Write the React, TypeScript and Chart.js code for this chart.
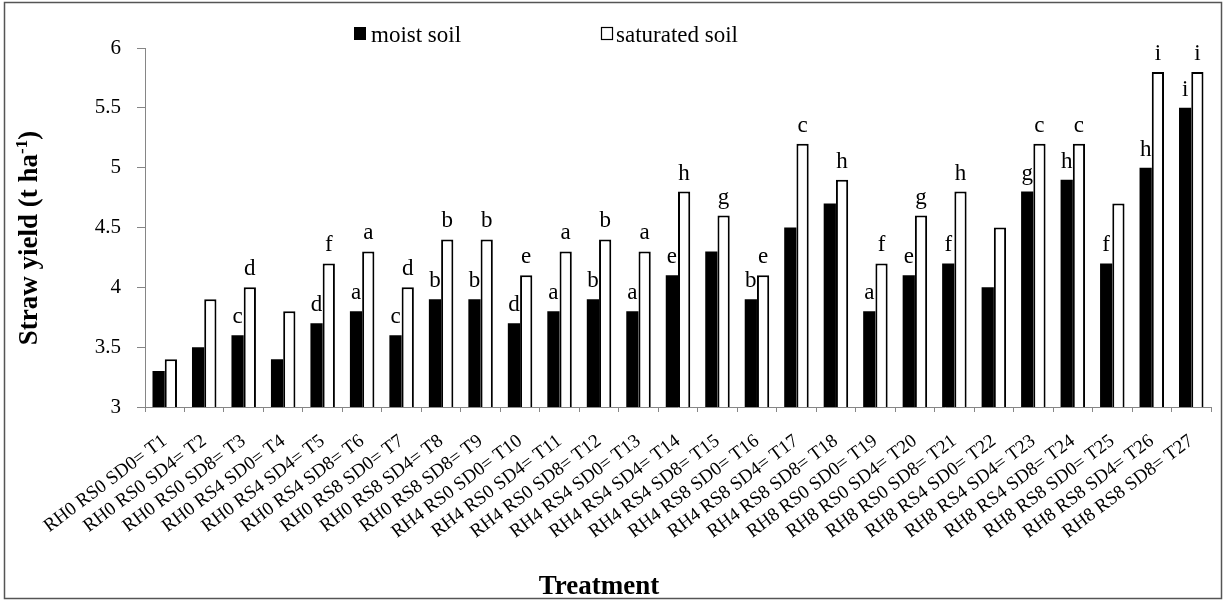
import React, { useEffect, useRef } from "react";
import { Chart, registerables } from "chart.js";

Chart.register(...registerables);

const categories = [
  "RH0 RS0 SD0= T1", "RH0 RS0 SD4= T2", "RH0 RS0 SD8= T3",
  "RH0 RS4 SD0= T4", "RH0 RS4 SD4= T5", "RH0 RS4 SD8= T6",
  "RH0 RS8 SD0= T7", "RH0 RS8 SD4= T8", "RH0 RS8 SD8= T9",
  "RH4 RS0 SD0= T10", "RH4 RS0 SD4= T11", "RH4 RS0 SD8= T12",
  "RH4 RS4 SD0= T13", "RH4 RS4 SD4= T14", "RH4 RS4 SD8= T15",
  "RH4 RS8 SD0= T16", "RH4 RS8 SD4= T17", "RH4 RS8 SD8= T18",
  "RH8 RS0 SD0= T19", "RH8 RS0 SD4= T20", "RH8 RS0 SD8= T21",
  "RH8 RS4 SD0= T22", "RH8 RS4 SD4= T23", "RH8 RS4 SD8= T24",
  "RH8 RS8 SD0= T25", "RH8 RS8 SD4= T26", "RH8 RS8 SD8= T27",
];

const moistSoil = [3.3, 3.5, 3.6, 3.4, 3.7, 3.8, 3.6, 3.9, 3.9, 3.7, 3.8, 3.9, 3.8, 4.1, 4.3, 3.9, 4.5, 4.7, 3.8, 4.1, 4.2, 4.0, 4.8, 4.9, 4.2, 5.0, 5.5];
const saturatedSoil = [3.4, 3.9, 4.0, 3.8, 4.2, 4.3, 4.0, 4.4, 4.4, 4.1, 4.3, 4.4, 4.3, 4.8, 4.6, 4.1, 5.2, 4.9, 4.2, 4.6, 4.8, 4.5, 5.2, 5.2, 4.7, 5.8, 5.8];

const moistLetters = ["", "", "c", "", "d", "a", "c", "b", "b", "d", "a", "b", "a", "e", "", "b", "", "", "a", "e", "f", "", "g", "h", "f", "h", "i"];
const saturatedLetters = ["", "", "d", "", "f", "a", "d", "b", "b", "e", "a", "b", "a", "h", "g", "e", "c", "h", "f", "g", "h", "", "c", "c", "", "i", "i"];

const seriesNames = ["moist soil", "saturated soil"];
const yMin = 3;
const yMax = 6;
const yStep = 0.5;
const xTitle = "Treatment";
const yTitleMain = "Straw yield (t ha";
const yTitleSup = "-1";
const yTitleEnd = ")";

const SERIF = '"Liberation Serif"';
const AXIS_GRAY = "#868686";

const decorPlugin = {
  id: "decor",
  afterDatasetsDraw(chart: any) {
    const ctx = chart.ctx as CanvasRenderingContext2D;
    ctx.save();
    ctx.font = `23px ${SERIF}`;
    ctx.fillStyle = "#000";
    ctx.textAlign = "center";
    ctx.textBaseline = "alphabetic";
    [moistLetters, saturatedLetters].forEach((letters, di) => {
      const meta = chart.getDatasetMeta(di);
      meta.data.forEach((bar: any, i: number) => {
        const t = letters[i];
        if (t) ctx.fillText(t, bar.x, bar.y - 12);
      });
    });
    ctx.restore();
  },
  afterDraw(chart: any) {
    const ctx = chart.ctx as CanvasRenderingContext2D;
    ctx.save();
    // outer border
    ctx.strokeStyle = "#555";
    ctx.lineWidth = 1.5;
    ctx.strokeRect(4.5, 2.5, 1217, 596);

    // legend
    ctx.font = `23px ${SERIF}`;
    ctx.textAlign = "left";
    ctx.textBaseline = "alphabetic";
    ctx.fillStyle = "#000";
    ctx.fillRect(354, 27, 12, 13);
    ctx.fillText(seriesNames[0], 371, 42);
    ctx.fillStyle = "#fff";
    ctx.fillRect(601, 27, 12, 13);
    ctx.strokeStyle = "#000";
    ctx.lineWidth = 1.2;
    ctx.strokeRect(601.5, 27.5, 11, 12);
    ctx.fillStyle = "#000";
    ctx.fillText(seriesNames[1], 616, 42);

    // x title
    ctx.font = `bold 27px ${SERIF}`;
    ctx.textAlign = "center";
    ctx.fillText(xTitle, 599, 594);

    // y title with superscript
    ctx.translate(37, 238);
    ctx.rotate(-Math.PI / 2);
    const mainFont = `bold 27px ${SERIF}`;
    const supFont = `bold 17px ${SERIF}`;
    ctx.font = mainFont;
    const w1 = ctx.measureText(yTitleMain).width;
    const w3 = ctx.measureText(yTitleEnd).width;
    ctx.font = supFont;
    const w2 = ctx.measureText(yTitleSup).width;
    const total = w1 + w2 + w3;
    let x = -total / 2;
    ctx.textAlign = "left";
    ctx.font = mainFont;
    ctx.fillText(yTitleMain, x, 0);
    x += w1;
    ctx.font = supFont;
    ctx.fillText(yTitleSup, x, -10);
    x += w2;
    ctx.font = mainFont;
    ctx.fillText(yTitleEnd, x, 0);
    ctx.restore();
  },
};

export default function App() {
  const ref = useRef<HTMLCanvasElement | null>(null);

  useEffect(() => {
    let chart: Chart | null = null;
    let cancelled = false;
    const build = () => {
      if (cancelled || !ref.current) return;
      chart = new Chart(ref.current, {
        type: "bar",
        data: {
          labels: categories,
          datasets: [
            {
              label: seriesNames[0],
              data: moistSoil,
              backgroundColor: "#000",
              borderWidth: 0,
              categoryPercentage: 0.62,
              barPercentage: 1.0,
            },
            {
              label: seriesNames[1],
              data: saturatedSoil,
              backgroundColor: "#fff",
              borderColor: "#000",
              borderWidth: 2,
              categoryPercentage: 0.62,
              barPercentage: 1.0,
            },
          ],
        },
        options: {
          responsive: false,
          animation: false,
          devicePixelRatio: 1,
          layout: { padding: { top: 48, right: 14, left: 0, bottom: 0 } },
          plugins: {
            legend: { display: false },
            tooltip: { enabled: false },
            title: { display: false },
          },
          scales: {
            x: {
              offset: true,
              grid: {
                display: true,
                drawOnChartArea: false,
                drawTicks: true,
                tickLength: 5,
                color: AXIS_GRAY,
                offset: true,
              },
              border: { display: true, color: AXIS_GRAY, width: 1 },
              ticks: {
                autoSkip: false,
                maxRotation: 37,
                minRotation: 37,
                color: "#000",
                padding: 18,
                font: { family: SERIF, size: 19 },
              },
              afterFit(scale: any) {
                scale.height = 601 - 407;
              },
            },
            y: {
              min: yMin,
              max: yMax,
              grid: {
                display: true,
                drawOnChartArea: false,
                drawTicks: true,
                tickLength: 8,
                color: AXIS_GRAY,
              },
              border: { display: true, color: AXIS_GRAY, width: 1 },
              ticks: {
                stepSize: yStep,
                color: "#000",
                padding: 16,
                font: { family: SERIF, size: 21 },
                callback: (v: any) => String(v),
              },
              afterFit(scale: any) {
                scale.width = 145;
              },
            },
          },
        },
        plugins: [decorPlugin],
      });
    };
    const fonts: any = (document as any).fonts;
    if (fonts && fonts.load) {
      Promise.all([
        fonts.load(`21px ${SERIF}`),
        fonts.load(`bold 27px ${SERIF}`),
      ]).then(build, build);
    } else {
      build();
    }
    return () => {
      cancelled = true;
      if (chart) chart.destroy();
    };
  }, []);

  return (
    <div style={{ position: "fixed", left: 0, top: 0, width: 1225, height: 601, background: "#fff" }}>
      <canvas ref={ref} width={1225} height={601} style={{ width: 1225, height: 601, display: "block" }} />
    </div>
  );
}
